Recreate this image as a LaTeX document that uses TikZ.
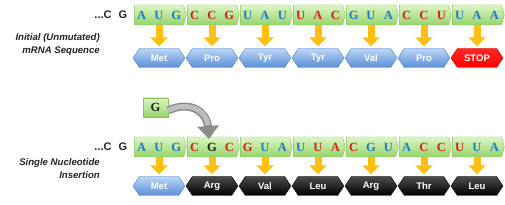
\documentclass[tikz,border=0pt]{standalone}
\usepackage{fontspec}
\setmainfont{Liberation Serif}
\setsansfont{Liberation Sans}
\usetikzlibrary{shapes.symbols,arrows.meta}
\definecolor{nblue}{HTML}{1E78C8}
\definecolor{nred}{HTML}{D42020}
\definecolor{nblack}{HTML}{202020}
\definecolor{boxtop}{HTML}{DDF6C4}
\definecolor{boxbot}{HTML}{94D46A}
\definecolor{boxborder}{HTML}{86C25C}
\definecolor{hextop}{HTML}{BCD6F6}
\definecolor{hexbot}{HTML}{5A8ED8}
\definecolor{hexborder}{HTML}{4C7CC4}
\definecolor{arrowyellow}{HTML}{FFBF10}
\definecolor{stopred}{HTML}{FF0000}
\definecolor{lbl}{HTML}{222222}
\newcommand\mkcodon[9]{%
  \node[codon] (#1) at (#2,#3) {};
  \node[nt,text=#5] (#1a) at ([xshift=-17.3pt]#1.center) {#4};
  \node[nt,text=#7] (#1b) at (#1.center) {#6};
  \node[nt,text=#9] (#1c) at ([xshift=17.3pt]#1.center) {#8};
}
\tikzset{
  codon/.style={signal, signal to=east, signal pointer angle=150,
    minimum width=52pt, minimum height=20pt, inner sep=0pt,
    draw=boxborder, top color=boxtop, bottom color=boxbot},
  nt/.style={font=\bfseries\fontsize{12.5}{12.5}\selectfont, inner sep=0pt},
  pre/.style={font=\sffamily\bfseries\fontsize{11}{11}\selectfont, text=lbl, inner sep=0pt},
  aa/.style={signal, signal to=west and east, signal pointer angle=112,
    minimum width=52pt, minimum height=19pt, inner sep=0pt,
    font=\sffamily\bfseries\fontsize{9.5}{9.5}\selectfont, text=white},
  aablue/.style={aa, draw=hexborder, top color=hextop, bottom color=hexbot},
  aastop/.style={aa, draw=stopred!80!black, top color=stopred!85!white, bottom color=stopred},
  aablack/.style={aa, draw=black, top color=black!70, bottom color=black},
  yarrow/.style={line width=7pt, color=arrowyellow,
    -{Triangle[width=17pt,length=9pt]}, shorten >=2pt},
  side/.style={font=\sffamily\bfseries\itshape\fontsize{9.6}{13}\selectfont,
    align=right, anchor=east, text=lbl, inner sep=0pt},
}
\begin{document}
\begin{tikzpicture}[x=1pt,y=-1pt]
\useasboundingbox (0,0) rectangle (505,205);
% ---------- top row ----------
\node[side] (lab1) at (100,45) {Initial (Unmutated)\\mRNA Sequence};
\node[pre] (p1) at (103,15) {...C};
\node[pre] (p2) at (123,15) {G};
\mkcodon{t1}{159}{15}{A}{nblue}{U}{nblue}{G}{nblue}
\mkcodon{t2}{212}{15}{C}{nred}{C}{nred}{G}{nred}
\mkcodon{t3}{265}{15}{U}{nblue}{A}{nblue}{U}{nblue}
\mkcodon{t4}{318}{15}{U}{nred}{A}{nred}{C}{nred}
\mkcodon{t5}{371}{15}{G}{nblue}{U}{nblue}{A}{nblue}
\mkcodon{t6}{424}{15}{C}{nred}{C}{nred}{U}{nred}
\mkcodon{t7}{477}{15}{U}{nblue}{A}{nblue}{A}{nblue}
\node[aablue] (h1) at (159,58) {Met};
\node[aablue] (h2) at (212,58) {Pro};
\node[aablue] (h3) at (265,58) {Tyr};
\node[aablue] (h4) at (318,58) {Tyr};
\node[aablue] (h5) at (371,58) {Val};
\node[aablue] (h6) at (424,58) {Pro};
\node[aastop] (h7) at (477,58) {STOP};
\foreach \i in {1,...,7} {\draw[yarrow] (t\i.south) -- (h\i.north);}
% ---------- bottom row ----------
\node[side] (lab2) at (100,169) {Single Nucleotide\\Insertion};
\node[pre] (q1) at (103,147) {...C};
\node[pre] (q2) at (123,147) {G};
\mkcodon{b1}{159}{147}{A}{nblue}{U}{nblue}{G}{nblue}
\mkcodon{b2}{212}{147}{C}{nred}{G}{nblack}{C}{nred}
\mkcodon{b3}{265}{147}{G}{nred}{U}{nblue}{A}{nblue}
\mkcodon{b4}{318}{147}{U}{nblue}{U}{nred}{A}{nred}
\mkcodon{b5}{371}{147}{C}{nred}{G}{nblue}{U}{nblue}
\mkcodon{b6}{424}{147}{A}{nblue}{C}{nred}{C}{nred}
\mkcodon{b7}{477}{147}{U}{nred}{U}{nblue}{A}{nblue}
\node[aablue] (g1) at (159,186) {Met};
\node[aablack] (g2) at (212,186) {Arg};
\node[aablack] (g3) at (265,186) {Val};
\node[aablack] (g4) at (318,186) {Leu};
\node[aablack] (g5) at (371,186) {Arg};
\node[aablack] (g6) at (424,186) {Thr};
\node[aablack] (g7) at (477,186) {Leu};
\foreach \i in {1,...,7} {\draw[yarrow] (b\i.south) -- (g\i.north);}
% ---------- inserted G ----------
\node[draw=boxborder, top color=boxtop, bottom color=boxbot, minimum width=25pt,
  minimum height=19pt, inner sep=0pt, font=\bfseries\fontsize{12.5}{12.5}\selectfont,
  text=nblack] (ins) at (155.5,107.5) {G};
\coordinate (tip) at (209,139);
\draw[line width=8pt, color=black!45, -{Triangle[width=21pt,length=13pt]}]
  ([yshift=-3pt]ins.east) .. controls (190,100) and (207,112) .. (tip);
\draw[line width=5pt, color=black!25, shorten >=14pt]
  ([yshift=-3pt]ins.east) .. controls (190,100) and (207,112) .. (tip);
\end{tikzpicture}
\end{document}
